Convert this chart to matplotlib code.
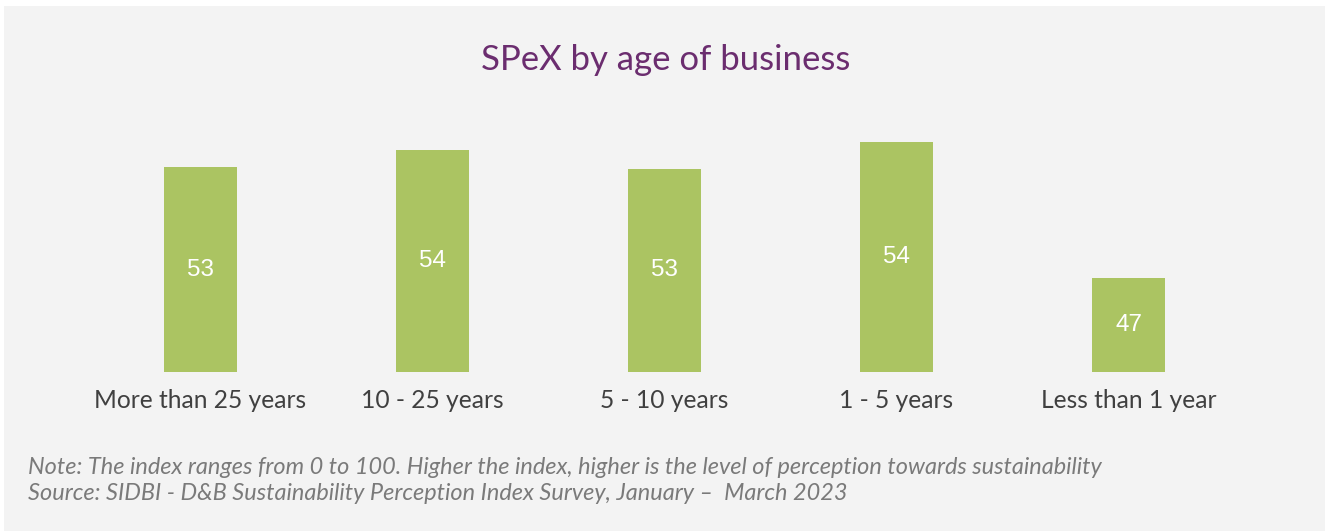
import matplotlib.pyplot as plt

# data
categories = ['More than 25 years', '10 - 25 years', '5 - 10 years', '1 - 5 years', 'Less than 1 year']
spex = [53.0, 53.9, 52.9, 54.35, 47.0]

bar_color = '#abc462'
title_color = '#6b2d6f'
bg = '#f3f3f3'

W, H = 1330, 531
fig = plt.figure(figsize=(W / 100, H / 100), dpi=100)
fig.patch.set_facecolor('white')
# grey panel behind everything
fig.patches.append(plt.Rectangle((4 / W, 0), 1321 / W, 525 / H, transform=fig.transFigure,
                                 facecolor=bg, edgecolor='none', zorder=-5))

# axes placed so bars line up with the reference
left, right = 84.5, 1244.5
base, top = 372, 80
ax = fig.add_axes([left / W, (H - base) / H, (right - left) / W, (base - top) / H])
ax.set_zorder(2)
ax.set_facecolor('none')
x = range(len(categories))
bars = ax.bar(x, spex, width=0.315, color=bar_color)
ax.set_xlim(-0.5, len(categories) - 0.5)
ax.set_ylim(41.92, 41.92 + (base - top) / 18.5)
for b, v in zip(bars, spex):
    ax.text(b.get_x() + b.get_width() / 2, (41.92 + v) / 2, f'{v:.0f}', ha='center', va='center',
            color='white', fontsize=17.5, family='Liberation Sans')
ax.set_xticks(list(x))
ax.set_xticklabels(categories, fontsize=17.7, color='#404040', family='Lato')
ax.tick_params(axis='x', length=0, pad=12)
ax.set_yticks([])
for s in ax.spines.values():
    s.set_visible(False)

fig.text(666 / W, 1 - 60 / H, 'SPeX by age of business', ha='center', va='center',
         fontsize=25, color=title_color, family='Lato')
fig.text(28 / W, 1 - 468 / H,
         'Note: The index ranges from 0 to 100. Higher the index, higher is the level of perception towards sustainability',
         ha='left', va='center', fontsize=16.9, style='italic', color='#7a7a7a', family='Lato')
fig.text(28 / W, 1 - 494 / H,
         'Source: SIDBI - D&B Sustainability Perception Index Survey, January \u2013  March 2023',
         ha='left', va='center', fontsize=16.9, style='italic', color='#7a7a7a', family='Lato')

fig.savefig('out.png', dpi=100, facecolor=fig.get_facecolor())
